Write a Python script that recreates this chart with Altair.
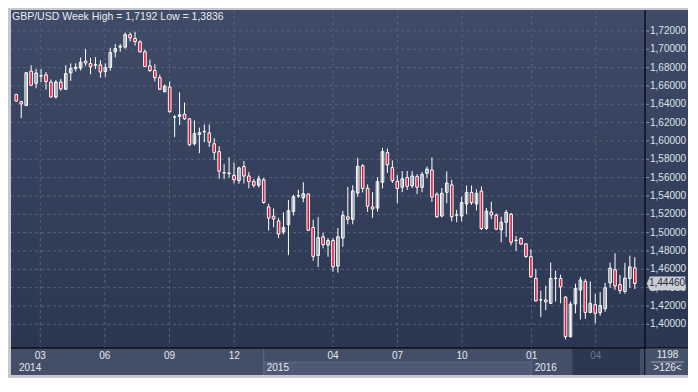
import altair as alt
import pandas as pd

# ---------------- data (weekly GBP/USD candles) ----------------
opens = [1.6506, 1.6428, 1.6387, 1.6761, 1.6629, 1.6708, 1.6721, 1.6642, 1.6479, 1.6642,
         1.6564, 1.6741, 1.6792, 1.6795, 1.6870, 1.6843, 1.6826, 1.6829, 1.6758, 1.6802,
         1.6972, 1.7023, 1.7023, 1.7159, 1.7118, 1.7081, 1.6972, 1.6819, 1.6768, 1.6690,
         1.6537, 1.6588, 1.6258, 1.6268, 1.6292, 1.6241, 1.5969, 1.6071, 1.6098, 1.6088,
         1.5969, 1.5884, 1.5650, 1.5645, 1.5625, 1.5567, 1.5720, 1.5618, 1.5557, 1.5516,
         1.5577, 1.5281, 1.5179, 1.5128, 1.5006, 1.5087, 1.5230, 1.5400, 1.5380, 1.5421,
         1.5057, 1.4751, 1.4955, 1.4863, 1.4914, 1.4635, 1.4941, 1.5172, 1.5145, 1.5431,
         1.5730, 1.5485, 1.5281, 1.5268, 1.5550, 1.5873, 1.5710, 1.5560, 1.5495, 1.5601,
         1.5512, 1.5611, 1.5495, 1.5648, 1.5684, 1.5419, 1.5181, 1.5439, 1.5521, 1.5191,
         1.5181, 1.5313, 1.5439, 1.5313, 1.5453, 1.5045, 1.5225, 1.5191, 1.5031, 1.5113,
         1.5201, 1.4914, 1.4936, 1.4878, 1.4739, 1.4501, 1.4266, 1.4266, 1.4229, 1.4499,
         1.4501, 1.4297, 1.3865, 1.4222, 1.4375, 1.4470, 1.4130, 1.4215, 1.4127, 1.4171,
         1.4453, 1.4596, 1.4433, 1.4358, 1.4501, 1.4616]
highs = [1.6515, 1.6438, 1.6751, 1.6826, 1.6785, 1.6785, 1.6751, 1.6670, 1.6663, 1.6676,
         1.6826, 1.6846, 1.6846, 1.6910, 1.7004, 1.6908, 1.6914, 1.6880, 1.6846, 1.7016,
         1.7057, 1.7057, 1.7183, 1.7183, 1.7192, 1.7098, 1.6996, 1.6887, 1.6836, 1.6724,
         1.6615, 1.6649, 1.6282, 1.6530, 1.6418, 1.6248, 1.6224, 1.6146, 1.6180, 1.6180,
         1.6030, 1.5942, 1.5747, 1.5822, 1.5764, 1.5720, 1.5781, 1.5662, 1.5584, 1.5621,
         1.5597, 1.5315, 1.5264, 1.5162, 1.5220, 1.5356, 1.5414, 1.5468, 1.5550, 1.5427,
         1.5142, 1.5169, 1.5000, 1.4941, 1.4941, 1.5050, 1.5237, 1.5499, 1.5516, 1.5815,
         1.5747, 1.5526, 1.5441, 1.5604, 1.5924, 1.5917, 1.5788, 1.5628, 1.5672, 1.5672,
         1.5672, 1.5638, 1.5662, 1.5720, 1.5820, 1.5439, 1.5487, 1.5667, 1.5575, 1.5249,
         1.5392, 1.5514, 1.5514, 1.5473, 1.5504, 1.5269, 1.5337, 1.5208, 1.5174, 1.5249,
         1.5215, 1.4963, 1.4950, 1.4885, 1.4820, 1.4603, 1.4368, 1.4419, 1.4674, 1.4586,
         1.4542, 1.4307, 1.4249, 1.4443, 1.4518, 1.4494, 1.4467, 1.4331, 1.4351, 1.4453,
         1.4674, 1.4776, 1.4538, 1.4671, 1.4749, 1.4732]
lows = [1.6430, 1.6248, 1.6380, 1.6601, 1.6574, 1.6642, 1.6559, 1.6472, 1.6462, 1.6547,
        1.6554, 1.6656, 1.6758, 1.6768, 1.6819, 1.6727, 1.6785, 1.6690, 1.6700, 1.6768,
        1.6911, 1.6972, 1.7006, 1.7084, 1.7040, 1.6965, 1.6806, 1.6751, 1.6649, 1.6554,
        1.6530, 1.6309, 1.6044, 1.6173, 1.6231, 1.5942, 1.5952, 1.5867, 1.5986, 1.5935,
        1.5792, 1.5588, 1.5584, 1.5601, 1.5536, 1.5533, 1.5536, 1.5482, 1.5492, 1.5492,
        1.5315, 1.5023, 1.5060, 1.4941, 1.4982, 1.4754, 1.5186, 1.5380, 1.5332, 1.5019,
        1.4693, 1.4625, 1.4829, 1.4737, 1.4574, 1.4564, 1.4846, 1.5091, 1.5091, 1.5390,
        1.5438, 1.5227, 1.5162, 1.5230, 1.5482, 1.5652, 1.5543, 1.5322, 1.5441, 1.5465,
        1.5485, 1.5421, 1.5441, 1.5594, 1.5334, 1.5160, 1.5167, 1.5320, 1.5123, 1.5113,
        1.5123, 1.5201, 1.5303, 1.5242, 1.5028, 1.5031, 1.5147, 1.5028, 1.4895, 1.4953,
        1.4861, 1.4800, 1.4868, 1.4725, 1.4508, 1.4249, 1.4079, 1.4154, 1.4222, 1.4249,
        1.4229, 1.3836, 1.3858, 1.4120, 1.4052, 1.4059, 1.4120, 1.4011, 1.4093, 1.4137,
        1.4399, 1.4375, 1.4334, 1.4334, 1.4399, 1.4385]
closes = [1.6435, 1.6404, 1.6744, 1.6608, 1.6741, 1.6712, 1.6649, 1.6479, 1.6642, 1.6568,
          1.6734, 1.6792, 1.6802, 1.6859, 1.6850, 1.6809, 1.6832, 1.6751, 1.6802, 1.6965,
          1.7006, 1.7033, 1.7159, 1.7125, 1.7084, 1.6972, 1.6812, 1.6768, 1.6690, 1.6564,
          1.6598, 1.6319, 1.6262, 1.6285, 1.6241, 1.5959, 1.6081, 1.6090, 1.6105, 1.5986,
          1.5874, 1.5670, 1.5655, 1.5650, 1.5577, 1.5706, 1.5618, 1.5557, 1.5516, 1.5587,
          1.5329, 1.5159, 1.5149, 1.4985, 1.5057, 1.5240, 1.5393, 1.5404, 1.5424, 1.5026,
          1.4741, 1.4945, 1.4870, 1.4914, 1.4628, 1.4955, 1.5189, 1.5145, 1.5455, 1.5723,
          1.5482, 1.5288, 1.5257, 1.5557, 1.5883, 1.5740, 1.5567, 1.5482, 1.5587, 1.5506,
          1.5618, 1.5495, 1.5635, 1.5692, 1.5388, 1.5174, 1.5429, 1.5541, 1.5174, 1.5195,
          1.5327, 1.5439, 1.5327, 1.5429, 1.5045, 1.5235, 1.5194, 1.5038, 1.5113, 1.5222,
          1.4895, 1.4918, 1.4875, 1.4739, 1.4518, 1.4256, 1.4268, 1.4246, 1.4501, 1.4503,
          1.4409, 1.3865, 1.4222, 1.4392, 1.4484, 1.4130, 1.4229, 1.4120, 1.4205, 1.4399,
          1.4613, 1.4419, 1.4368, 1.4504, 1.4627, 1.4446]

# month ticks (position in week index) and their labels
month_ticks = [4.85, 17.9, 30.95, 44.05, 64.0, 77.05, 90.1, 104.15, 117.1]
month_labels = ["03", "06", "09", "12", "04", "07", "10", "01", "04"]
# year blocks (start / end in week index)
year_starts = [-0.06, 50.0, 104.15]
year_ends = [50.0, 104.15, 112.4]
year_labels = ["2014", "2015", "2016"]
year_shade = ["plain", "light", "plain"]
price_levels = [1.40, 1.42, 1.44, 1.46, 1.48, 1.50, 1.52, 1.54, 1.56,
                1.58, 1.60, 1.62, 1.64, 1.66, 1.68, 1.70, 1.72]
title_text = "GBP/USD Week High = 1,7192 Low = 1,3836"
info_top, info_bottom = "1198", ">126<"
last_price = closes[-1]

# ---------------- layout ----------------
W, H = 634, 338          # plot area
AX, SB = 43, 27          # right axis column, bottom strip
FONT = "Liberation Sans"
LABEL = "#e4e8ee"
DARK = "#0b0f17"


def comma(v, d):
    return format(v, "." + str(d) + "f").replace(".", ",")


candles = pd.DataFrame({
    "i": list(range(len(opens))),
    "open": opens, "high": highs, "low": lows, "close": closes,
})
candles["dir"] = ["up" if c >= o else "down" for o, c in zip(opens, closes)]

xs = alt.Scale(domain=[-0.06, 126.05], nice=False, zero=False)
ys = alt.Scale(domain=[1.3742, 1.7428], nice=False, zero=False)
X = lambda f: alt.X(f, scale=xs, axis=None)
Y = lambda f: alt.Y(f, scale=ys, axis=None)

one = pd.DataFrame({"a": [0]})

bg_grad = alt.LinearGradient(
    gradient="linear",
    stops=[alt.GradientStop(color="#3f4b67", offset=0),
           alt.GradientStop(color="#2b3751", offset=1)],
    x1=0, x2=0, y1=0, y2=1,
)

background = alt.Chart(one).mark_rect(color=bg_grad).encode(
    x=alt.value(0), x2=alt.value(W + AX), y=alt.value(0), y2=alt.value(H)
)

levels = pd.DataFrame({"p": price_levels, "label": [comma(p, 5) for p in price_levels]})

hgrid = alt.Chart(levels).mark_rule(
    color="#56627d", strokeDash=[3, 3], strokeWidth=1
).encode(y=Y("p:Q"), x=alt.value(0), x2=alt.value(W))

vgrid = alt.Chart(pd.DataFrame({"t": month_ticks})).mark_rule(
    color="#56627d", strokeDash=[3, 3], strokeWidth=1
).encode(x=X("t:Q"), y=alt.value(0), y2=alt.value(H))

wicks = alt.Chart(candles).mark_rule(color="white", strokeWidth=1).encode(
    x=X("i:Q"), y=Y("low:Q"), y2="high:Q",
)

bodies = alt.Chart(candles).mark_bar(
    size=2.6, stroke="white", strokeWidth=1, orient="vertical"
).encode(
    x=X("i:Q"), y=Y("open:Q"), y2="close:Q",
    fill=alt.Fill("dir:N", scale=alt.Scale(domain=["up", "down"],
                                           range=["transparent", "#e0183c"]),
                  legend=None),
)

title = alt.Chart(one).mark_text(
    text=title_text, align="left", baseline="middle", fontSize=10.5,
    font=FONT, color="#e8ebf1"
).encode(x=alt.value(1), y=alt.value(7))

# ---- right price axis (drawn as marks) ----
ytick = alt.Chart(levels).mark_rule(color="#7391c9", strokeWidth=1).encode(
    y=Y("p:Q"), x=alt.value(W + 1), x2=alt.value(W + 4)
)
ylabels = alt.Chart(levels).mark_text(
    align="left", baseline="middle", fontSize=10, font=FONT, color="#dde2ea"
).encode(y=Y("p:Q"), x=alt.value(W + 5), text="label:N")

# ---- bottom strip ----
strip = alt.Chart(one).mark_rect(color="#434f69").encode(
    x=alt.value(0), x2=alt.value(W), y=alt.value(H), y2=alt.value(H + SB)
)
years = pd.DataFrame({"s": year_starts, "e": year_ends, "label": year_labels,
                      "shade": year_shade})
year_cells = alt.Chart(years).mark_rect().encode(
    x=X("s:Q"), x2="e:Q",
    y=alt.value(H + 14), y2=alt.value(H + SB),
    color=alt.condition("datum.shade == 'light'", alt.value("#4e5a75"), alt.value("#434f69")),
)
year_seps = alt.Chart(years.iloc[1:]).mark_rule(color="#5f6b84", strokeWidth=1).encode(
    x=X("s:Q"), y=alt.value(H), y2=alt.value(H + SB)
)
year_row_line = alt.Chart(years.iloc[1:2]).mark_rule(color="#5f6b84", strokeWidth=1).encode(
    x=X("s:Q"), x2="e:Q", y=alt.value(H + 14)
)
highlight = alt.Chart(pd.DataFrame({"s": [112.4], "e": [126.05]})).mark_rect(
    color="#2c3852"
).encode(x=X("s:Q"), x2="e:Q", y=alt.value(H + 1), y2=alt.value(H + SB))

months = pd.DataFrame({"t": month_ticks, "label": month_labels})
month_text = alt.Chart(months).mark_text(
    align="center", baseline="middle", fontSize=10, font=FONT
).encode(
    x=X("t:Q"), y=alt.value(H + 8),
    text="label:N",
    color=alt.condition("datum.t > 112.4", alt.value("#6c7892"), alt.value(LABEL)),
)
year_text = alt.Chart(years).mark_text(
    align="left", baseline="middle", dx=3, fontSize=10, font=FONT, color=LABEL
).encode(x=X("s:Q"), y=alt.value(H + 20), text="label:N")

strip_top = alt.Chart(one).mark_rule(color=DARK, strokeWidth=1.5).encode(
    x=alt.value(0), x2=alt.value(W + AX), y=alt.value(H)
)
axis_line = alt.Chart(one).mark_rule(color=DARK, strokeWidth=1.5).encode(
    x=alt.value(W), y=alt.value(0), y2=alt.value(H + SB)
)

# ---- bottom-right info cell ----
info_cell = alt.Chart(one).mark_rect(color="#46526c").encode(
    x=alt.value(W + 1), x2=alt.value(W + AX), y=alt.value(H + 1), y2=alt.value(H + SB)
)
info_line = alt.Chart(one).mark_rule(color="#9aa3b5", strokeWidth=1).encode(
    x=alt.value(W + 6), x2=alt.value(W + AX - 4), y=alt.value(H + 14)
)
info_text_top = alt.Chart(one).mark_text(
    text=info_top, align="center", baseline="middle", fontSize=10, font=FONT, color=LABEL
).encode(x=alt.value(W + AX / 2 + 1), y=alt.value(H + 7))
info_text_bottom = alt.Chart(one).mark_text(
    text=info_bottom, align="center", baseline="middle", fontSize=10, font=FONT, color=LABEL
).encode(x=alt.value(W + AX / 2 + 1), y=alt.value(H + 20))

# ---- last price marker ----
last_df = pd.DataFrame({"p": [last_price], "label": [comma(last_price, 5)]})
marker = alt.Chart(last_df).mark_point(
    shape="M-1,0L-0.84,-0.36L1,-0.36L1,0.36L-0.84,0.36Z",
    filled=True, color="#c9ccd2", opacity=1, size=1480,
).encode(x=alt.value(W + 21), y=Y("p:Q"))
marker_text = alt.Chart(last_df).mark_text(
    align="center", baseline="middle", fontSize=10, font=FONT, color="#2a2f3a", dx=1
).encode(x=alt.value(W + 21), y=Y("p:Q"), text="label:N")

chart = alt.layer(
    background, hgrid, vgrid, wicks, bodies, title,
    ytick, ylabels,
    strip, year_cells, year_seps, year_row_line, highlight, month_text, year_text,
    strip_top, axis_line, info_cell, info_line, info_text_top, info_text_bottom,
    marker, marker_text,
).properties(
    width=W, height=H,
    autosize=alt.AutoSizeParams(type="none"),
    padding={"left": 3, "top": 2, "right": AX, "bottom": SB + 3},
    background="#c3c7cf",
).configure_view(stroke=None)

chart.save("out.html", embed_options={"renderer": "svg", "actions": False})
